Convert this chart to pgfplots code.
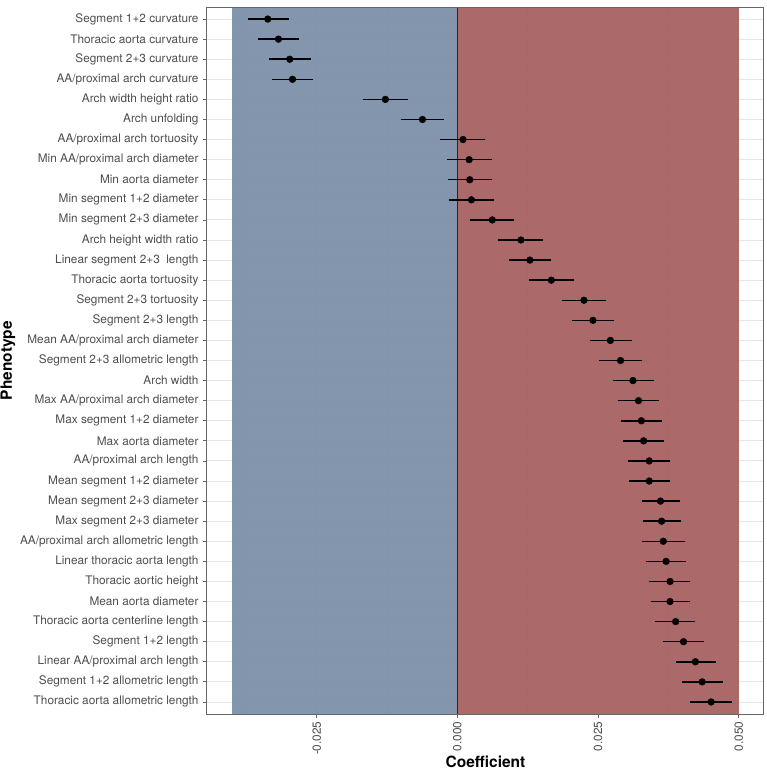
\documentclass[border=0pt]{standalone}
\usepackage{pgfplots}
\pgfplotsset{compat=1.18}
\usepackage{pgfplotstable}
\usepackage{fontspec}
\setmainfont{TeX Gyre Heros}
\definecolor{negfill}{HTML}{7B8EA7}
\definecolor{posfill}{HTML}{A55E5E}
\definecolor{gridc}{HTML}{E6E6E6}
\definecolor{tickc}{HTML}{4D4D4D}
\definecolor{framec}{HTML}{666666}

\pgfplotstableread{
row est lo hi
1 -0.0337 -0.0373 -0.0300
2 -0.0318 -0.0354 -0.0282
3 -0.0298 -0.0334 -0.0260
4 -0.0293 -0.0330 -0.0256
5 -0.0128 -0.0167 -0.0088
6 -0.0062 -0.0101 -0.0023
7 0.0010 -0.0030 0.0049
8 0.0021 -0.0018 0.0061
9 0.0022 -0.0017 0.0062
10 0.0025 -0.0014 0.0065
11 0.0062 0.0023 0.0101
12 0.0113 0.0073 0.0152
13 0.0129 0.0091 0.0167
14 0.0167 0.0127 0.0207
15 0.0225 0.0186 0.0264
16 0.0241 0.0203 0.0279
17 0.0272 0.0235 0.0310
18 0.0290 0.0251 0.0328
19 0.0312 0.0276 0.0349
20 0.0322 0.0286 0.0359
21 0.0327 0.0291 0.0364
22 0.0331 0.0295 0.0367
23 0.0341 0.0304 0.0378
24 0.0341 0.0305 0.0378
25 0.0361 0.0328 0.0395
26 0.0363 0.0330 0.0398
27 0.0366 0.0328 0.0404
28 0.0371 0.0336 0.0407
29 0.0378 0.0341 0.0414
30 0.0378 0.0345 0.0413
31 0.0388 0.0352 0.0423
32 0.0402 0.0366 0.0438
33 0.0423 0.0388 0.0459
34 0.0435 0.0399 0.0472
35 0.0451 0.0414 0.0488
}\coefs

\begin{document}
\begin{tikzpicture}
\useasboundingbox (-207pt,-57pt) rectangle (560pt,714pt);
\begin{axis}[
  at={(0pt,0pt)}, anchor=south west,
  scale only axis, width=557pt, height=707pt,
  xmin=-0.0445, xmax=0.0545,
  ymin=0.4, ymax=35.6, y dir=reverse,
  scaled x ticks=false,
  xtick={-0.025,0,0.025,0.05},
  xticklabels={-0.025,0.000,0.025,0.050},
  minor xtick={-0.0375,-0.0125,0.0125,0.0375},
  ytick={1,...,35},
  yticklabels={Segment 1+2 curvature,Thoracic aorta curvature,Segment 2+3 curvature,AA/proximal arch curvature,Arch width height ratio,Arch unfolding,AA/proximal arch tortuosity,Min AA/proximal arch diameter,Min aorta diameter,Min segment 1+2 diameter,Min segment 2+3 diameter,Arch height width ratio,Linear segment 2+3\ \ length,Thoracic aorta tortuosity,Segment 2+3 tortuosity,Segment 2+3 length,Mean AA/proximal arch diameter,Segment 2+3 allometric length,Arch width,Max AA/proximal arch diameter,Max segment 1+2 diameter,Max aorta diameter,AA/proximal arch length,Mean segment 1+2 diameter,Mean segment 2+3 diameter,Max segment 2+3 diameter,AA/proximal arch allometric length,Linear thoracic aorta length,Thoracic aortic height,Mean aorta diameter,Thoracic aorta centerline length,Segment 1+2 length,Linear AA/proximal arch length,Segment 1+2 allometric length,Thoracic aorta allometric length},
  grid=both,
  major grid style={gridc, line width=0.9pt},
  minor grid style={gridc, line width=0.45pt},
  tick align=outside, tick pos=left,
  major tick length=4pt, minor tick length=0pt,
  every tick/.style={framec, line width=0.8pt},
  axis line style={framec, line width=1pt},
  ticklabel style={font=\fontsize{11.8}{14}\selectfont, text=tickc},
  xticklabel style={rotate=90, anchor=east},
  yticklabel style={xshift=-1pt},
  xlabel={Coefficient}, ylabel={Phenotype},
  label style={font=\fontsize{15.5}{18}\selectfont\bfseries},
  xlabel style={at={(axis description cs:0.5,-0.0675)}, anchor=center},
  ylabel style={at={(axis description cs:-0.3572,0.5)}, anchor=center},
  clip=true,
]
\addplot[fill=negfill, draw=none, fill opacity=0.93] coordinates {(-0.04,0.4) (-0.04,35.6) (0,35.6) (0,0.4)} -- cycle;
\addplot[fill=posfill, draw=none, fill opacity=0.93] coordinates {(0,0.4) (0,35.6) (0.05,35.6) (0.05,0.4)} -- cycle;
\addplot[color=black!85, line width=0.9pt] coordinates {(0,0.4) (0,35.6)};
\addplot[only marks, mark=*, mark size=3.4pt, mark options={fill=black, draw=black},
  error bars/.cd, x dir=both, x explicit, error mark=none,
  error bar style={black, line width=1.5pt}]
  table[x=est, y=row,
    x error plus expr=\thisrow{hi}-\thisrow{est},
    x error minus expr=\thisrow{est}-\thisrow{lo}] {\coefs};
\draw[framec, line width=1pt] (rel axis cs:0,0) rectangle (rel axis cs:1,1);
\end{axis}
\end{tikzpicture}
\end{document}
